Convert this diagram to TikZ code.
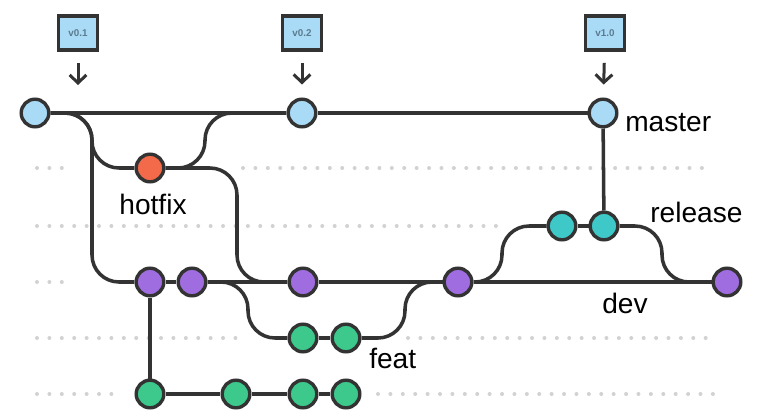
\documentclass[tikz,border=0pt]{standalone}
\usepackage{fontspec}
\setmainfont{Liberation Sans}
\usetikzlibrary{arrows.meta}

\definecolor{edge}{HTML}{333333}
\definecolor{masterfill}{HTML}{A9DBF7}
\definecolor{hotfixfill}{HTML}{F36A4A}
\definecolor{releasefill}{HTML}{3FC8C8}
\definecolor{devfill}{HTML}{A06DE0}
\definecolor{featfill}{HTML}{3DC88C}
\definecolor{tagtext}{HTML}{5B7A8E}
\definecolor{dotgray}{HTML}{D2D2D2}

\tikzset{
  commit/.style={circle, draw=edge, line width=0.085cm, minimum size=0.69cm, inner sep=0pt},
  masterc/.style={commit, fill=masterfill},
  hotfixc/.style={commit, fill=hotfixfill},
  releasec/.style={commit, fill=releasefill},
  devc/.style={commit, fill=devfill},
  featc/.style={commit, fill=featfill},
  branch/.style={draw=edge, line width=0.088cm, rounded corners=0.675cm},
  lane/.style={draw=dotgray, line width=0.1cm, line cap=round, dash pattern=on 0pt off 0.31cm},
  tagbox/.style={draw=edge, fill=masterfill, line width=0.085cm, minimum width=0.975cm, minimum height=0.85cm,
    inner sep=0pt, font=\fontsize{7}{8}\selectfont\bfseries, text=tagtext},
  tagarrow/.style={draw=edge, line width=0.075cm, -{Straight Barb[length=0.2cm,width=0.42cm]},
    shorten <=0.28cm, shorten >=0.325cm},
  branchname/.style={font=\fontsize{20}{24}\selectfont, inner sep=0pt}
}

\begin{document}
\begin{tikzpicture}[x=0.025cm, y=-0.025cm]
\useasboundingbox (0,0) rectangle (763,416);

% lanes
\foreach \y/\a/\b in {168/37/68, 168/243/713, 226/37/502, 282/37/73,
                      338/37/240, 338/408/713, 394/37/115, 394/378/713}
  \draw[lane] (\a,\y) -- (\b,\y);

% commits
\node[masterc] (m1) at (35,113) {};
\node[masterc] (m2) at (302,113) {};
\node[masterc] (m3) at (603,113) {};
\node[hotfixc] (h1) at (150,168) {};
\node[releasec] (r1) at (562,226) {};
\node[releasec] (r2) at (604,226) {};
\node[devc] (d1) at (150,282) {};
\node[devc] (d2) at (192,282) {};
\node[devc] (d3) at (303,282) {};
\node[devc] (d4) at (458,282) {};
\node[devc] (d5) at (727,282) {};
\node[featc] (f1) at (303,338) {};
\node[featc] (f2) at (346,338) {};
\node[featc] (b1) at (150,394) {};
\node[featc] (b2) at (236,394) {};
\node[featc] (b3) at (303,394) {};
\node[featc] (b4) at (346,394) {};

% tags
\node[tagbox] (t1) at (78,33) {v0.1};
\node[tagbox] (t2) at (302,33) {v0.2};
\node[tagbox] (t3) at (605,33) {v1.0};
\coordinate (a1) at (78,98);

\draw[tagarrow] (t1) -- (a1);
\draw[tagarrow] (t2) -- (m2);
\draw[tagarrow] (t3) -- (m3);

% straight history
\draw[branch] (m1) -- (m2) -- (m3);
\draw[branch] (d1) -- (d2) -- (d3) -- (d4) -- (d5);
\draw[branch] (f1) -- (f2);
\draw[branch] (b1) -- (b2) -- (b3) -- (b4);
\draw[branch] (m3) -- (r2);
\draw[branch] (r1) -- (r2);
\draw[branch] (d1) -- (b1);

% forks and merges
\draw[branch] (m1) -- (92,113) -- (92,168) -- (h1);
\draw[branch] (m1) -- (92,113) -- (92,282) -- (d1);
\draw[branch] (h1) -- (205,168) -- (205,113) -- (m2);
\draw[branch] (h1) -- (237,168) -- (237,282) -- (d3);
\draw[branch] (d2) -- (248,282) -- (248,338) -- (f1);
\draw[branch] (f2) -- (405,338) -- (405,282) -- (d4);
\draw[branch] (d4) -- (502,282) -- (502,226) -- (r1);
\draw[branch] (r2) -- (662,226) -- (662,282) -- (d5);

% branch names
\node[branchname, anchor=base west] (lmaster) at (625,131) {master};
\node[branchname, anchor=base] (lhotfix) at (153,214) {hotfix};
\node[branchname, anchor=base west] (lrelease) at (650,222) {release};
\node[branchname, anchor=base west] (ldev) at (602,313) {dev};
\node[branchname, anchor=base west] (lfeat) at (369,368) {feat};

\end{tikzpicture}
\end{document}
